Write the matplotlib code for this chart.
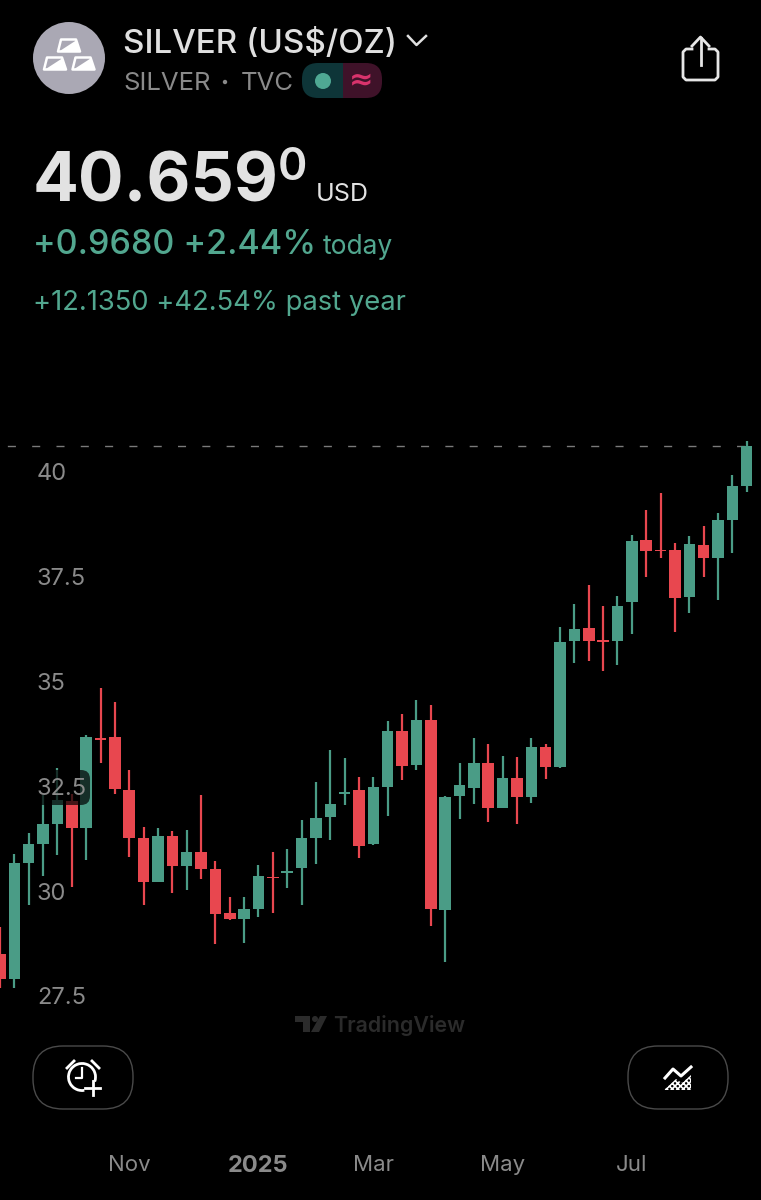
import matplotlib
matplotlib.use("Agg")
import matplotlib.pyplot as plt
from matplotlib.patches import Circle, FancyBboxPatch, Polygon, Arc, Rectangle

plt.rcParams['font.family'] = ['Inter', 'DejaVu Sans']
plt.rcParams['hatch.linewidth'] = 1.2

# weekly candles
opens = [28.50, 27.91, 30.68, 31.13, 31.60, 32.16, 31.51, 33.65, 33.68, 32.42,
         31.28, 30.22, 31.31, 30.59, 30.93, 30.52, 29.49, 29.34, 29.57, 30.35,
         30.44, 30.56, 31.28, 31.77, 32.33, 32.42, 31.12, 32.49, 33.81, 33.00,
         34.08, 29.56, 32.27, 32.46, 33.07, 31.98, 32.69, 32.25, 33.45, 32.96,
         35.96, 36.27, 35.99, 35.98, 36.89, 38.37, 38.15, 38.13, 37.02, 38.27,
         37.96, 38.86, 39.66]
closes = [27.91, 30.68, 31.13, 31.60, 32.18, 31.51, 33.67, 33.61, 32.43, 31.28,
          30.22, 31.31, 30.60, 30.93, 30.53, 29.46, 29.33, 29.57, 30.36, 30.31,
          30.48, 31.28, 31.75, 32.08, 32.37, 31.09, 32.49, 33.81, 32.99, 34.08,
          29.58, 32.25, 32.53, 33.05, 31.98, 32.69, 32.25, 33.45, 32.96, 35.94,
          36.25, 35.96, 35.95, 36.80, 38.35, 38.12, 38.11, 37.00, 38.28, 37.96,
          38.86, 39.66, 40.63]
highs = [29.15, 30.89, 31.40, 32.29, 32.93, 32.33, 33.73, 34.84, 34.51, 32.89,
         31.54, 31.50, 31.44, 31.46, 32.29, 30.73, 29.85, 29.87, 30.62, 30.93,
         31.00, 31.71, 32.61, 33.38, 33.18, 32.72, 32.72, 34.05, 34.22, 34.55,
         34.43, 32.27, 33.07, 33.66, 33.50, 33.23, 33.19, 33.66, 33.51, 36.31,
         36.86, 37.30, 36.80, 37.05, 38.50, 39.09, 39.50, 38.30, 38.47, 38.70,
         39.03, 39.94, 40.73]
lows = [27.68, 27.68, 29.67, 30.37, 30.87, 30.11, 30.74, 33.07, 32.31, 30.82,
        29.66, 30.22, 29.96, 30.04, 30.28, 28.73, 29.31, 28.76, 29.39, 29.49,
        30.08, 29.68, 30.66, 31.23, 32.06, 30.80, 31.11, 31.79, 32.65, 32.88,
        29.18, 28.31, 31.73, 32.08, 31.66, 31.98, 31.61, 32.10, 32.68, 32.95,
        35.44, 35.50, 35.26, 35.40, 36.14, 37.50, 37.94, 36.19, 36.64, 37.50,
        36.95, 38.07, 39.53]

price_ticks = [40, 37.5, 35, 32.5, 30, 27.5]
price_labels = ['40', '37.5', '35', '32.5', '30', '27.5']
date_ticks = [9, 18, 26, 35, 44]
date_labels = ['Nov', '2025', 'Mar', 'May', 'Jul']

GREEN = '#4a9c86'
RED = '#e8474f'
GREY = '#8a8a8a'
TEAL = '#52a78f'
BG = '#000000'
W, H = 761, 1200

fig = plt.figure(figsize=(W / 100, H / 100), dpi=100, facecolor=BG)

# price chart
top, bottom = 430, 1040
ax = fig.add_axes([0, 1 - bottom / H, 1, (bottom - top) / H], facecolor=BG)
for s in ax.spines.values():
    s.set_visible(False)
ax.set_axisbelow(False)

xs = list(range(len(opens)))
colors = [GREEN if c >= o else RED for o, c in zip(opens, closes)]
ax.vlines(xs, lows, highs, colors=colors, linewidth=1.6, zorder=2)
ax.bar(xs, [abs(c - o) for o, c in zip(opens, closes)],
       bottom=[min(o, c) for o, c in zip(opens, closes)],
       width=0.8, color=colors, linewidth=0, zorder=2)
ax.hlines(closes[-1], 0, xs[-1], color='#7a7a7a', linewidth=1,
          linestyles=[(12.2, (5.8, 11.7))], zorder=1)

ax.set_xlim(0, W / 14.36)
ax.set_ylim(40 - (bottom - 472) / 41.92, 40 + (472 - top) / 41.92)

ax.set_yticks(price_ticks)
ax.set_yticklabels(price_labels, fontsize=17, color=GREY, ha='left')
ax.tick_params(axis='y', length=0, pad=-26.5)
ax.set_xticks(date_ticks)
ax.set_xticklabels(date_labels, fontsize=16, color=GREY)
ax.tick_params(axis='x', length=0, pad=83)
ax.get_xticklabels()[1].set_fontweight('bold')
ax.get_xticklabels()[1].set_fontsize(17)

# overlay in pixel coordinates for the app chrome
ui = fig.add_axes([0, 0, 1, 1], facecolor='none')
ui.set_xlim(0, W)
ui.set_ylim(H, 0)
ui.axis('off')

# dark pill over the candles, under the 32.5 label
ax.add_patch(FancyBboxPatch((30, 770), 60, 35, boxstyle='round,pad=0,rounding_size=9',
                            fc='#000000', ec='none', alpha=0.7, zorder=2.2,
                            transform=ui.transData, clip_on=False))

# logo
ui.add_patch(Circle((69, 58), 36, fc='#aaa8b4', ec='none'))
for cx, cy in [(69, 45.5), (55, 63.5), (83.5, 63.5)]:
    ui.add_patch(Polygon([(cx - 8, cy - 6), (cx + 7, cy - 6), (cx + 11, cy + 6), (cx - 11, cy + 6)],
                         closed=True, fc='#aaa8b4', ec='white', lw=1.8, joinstyle='round'))
    ui.add_patch(Polygon([(cx - 10, cy + 6), (cx + 7, cy - 5), (cx + 11, cy + 6)], closed=True,
                         fc='white', ec='none'))

# header text
ui.text(123, 53, 'SILVER (US$/OZ)', fontsize=23.9, color='#e0e0e0', va='baseline', fontweight='medium')
ui.plot([408, 416.5, 426], [36, 45, 36], color='#e0e0e0', lw=1.8)
ui.text(123, 90, 'SILVER', fontsize=18.5, color=GREY, va='baseline')
ui.add_patch(Circle((225, 82), 2.2, fc=GREY, ec='none'))
ui.text(241, 90, 'TVC', fontsize=18.5, color=GREY, va='baseline')

# market status pill
left = FancyBboxPatch((302, 63), 80, 35, boxstyle='round,pad=0,rounding_size=16', fc='#0e3538', ec='none')
right = FancyBboxPatch((302, 63), 80, 35, boxstyle='round,pad=0,rounding_size=16', fc='#3f1229', ec='none')
ui.add_patch(left)
ui.add_patch(right)
right.set_clip_path(Rectangle((343, 60), 42, 40, transform=ui.transData))
left.set_clip_path(Rectangle((300, 60), 43, 40, transform=ui.transData))
ui.add_patch(Circle((323, 81), 8, fc='#4fa893', ec='none'))
ui.text(361, 80, '≈', fontsize=21, color='#d8336c', ha='center', va='center', fontweight='bold',
        family='DejaVu Sans')

# share icon
ui.plot([692, 686, 683, 683, 686, 715, 718, 718, 715, 709],
        [49, 49, 52, 77, 80, 80, 77, 52, 49, 49], color='#e6e6e6', lw=2, solid_joinstyle='round')
ui.plot([700.5, 700.5], [38, 65], color='#e6e6e6', lw=2)
ui.plot([692, 700.5, 709], [46, 37, 46], color='#e6e6e6', lw=2)

# price block
ui.text(33, 202, '40.659', fontsize=48.8, color='#e2e2e2', fontweight='bold', va='baseline')
ui.text(278, 180, '0', fontsize=32, color='#e2e2e2', fontweight='semibold', va='baseline')
ui.text(316, 201, 'USD', fontsize=18, color='#e2e2e2', va='baseline')
ui.text(33, 254, '+0.9680 +2.44%', fontsize=24.5, color=TEAL, fontweight='medium', va='baseline')
ui.text(323, 254, 'today', fontsize=19, color=TEAL, va='baseline')
ui.text(33, 310, '+12.1350 +42.54% past year', fontsize=19.7, color=TEAL, va='baseline')

# watermark
WM = '#2b2b2b'
ui.add_patch(Polygon([(295, 1016), (310, 1016), (310, 1032), (303, 1032), (303, 1022), (295, 1022)],
                     closed=True, fc=WM, ec='none'))
ui.add_patch(Circle((315, 1019), 3, fc=WM, ec='none'))
ui.add_patch(Polygon([(320, 1016), (327, 1016), (319, 1032), (311, 1032)], closed=True, fc=WM, ec='none'))
ui.text(333, 1032, 'TradingView', fontsize=15.4, color=WM, fontweight='semibold', va='baseline')

# round buttons
for x0 in [33, 628]:
    ui.add_patch(FancyBboxPatch((x0, 1046), 100, 63, boxstyle='round,pad=0,rounding_size=30',
                                fc='none', ec='#4a4a4a', lw=1))

# alarm icon
ui.add_patch(Arc((82, 1077), 27, 27, theta1=80, theta2=20, color='white', lw=2))
ui.plot([82, 82, 76], [1068, 1078, 1078], color='white', lw=1.6)
ui.plot([67, 74], [1068, 1061], color='white', lw=2)
ui.plot([92, 99], [1061, 1068], color='white', lw=2)
ui.plot([85, 100], [1088, 1088], color='white', lw=2)
ui.plot([92.5, 92.5], [1081, 1095], color='white', lw=2)

# chart style icon
ui.plot([665, 673, 681, 691], [1078, 1069, 1076, 1067], color='white', lw=2.2)
ui.add_patch(Polygon([(664, 1090), (676, 1079), (682, 1083), (691, 1075), (691, 1090)], closed=True,
                     fc='none', ec='white', lw=0, hatch='xxxxxx'))

fig.savefig('out.png', dpi=100, facecolor=BG)
